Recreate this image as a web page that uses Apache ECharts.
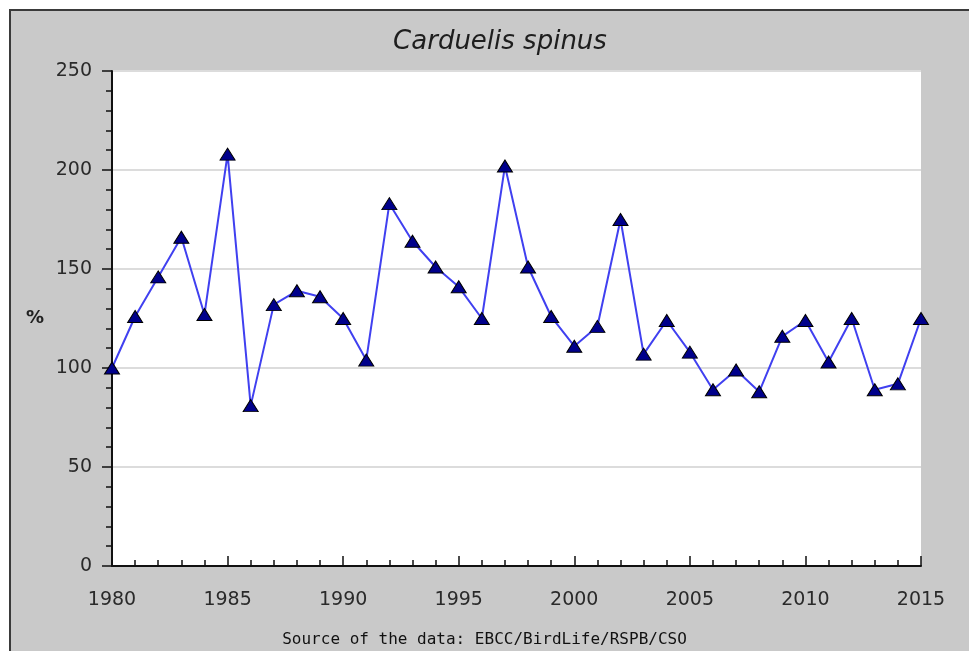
<!DOCTYPE html>
<html>
<head>
<meta charset="utf-8">
<script src="https://cdn.jsdelivr.net/npm/echarts@6/dist/echarts.min.js"></script>
<style>
  html, body { margin: 0; padding: 0; background: #ffffff; overflow: hidden; }
  #panel {
    position: absolute; left: 9px; top: 9px; width: 958px; height: 640px;
    background: #c9c9c9; border-top: 2px solid #3a3a3a; border-left: 2px solid #3a3a3a;
  }
  #chart { position: absolute; left: 0; top: 0; width: 969px; height: 651px; }
</style>
</head>
<body>
<div id="panel"></div>
<div id="chart"></div>
<script>
// Siskin population index (%), 1980 = 100
const years = [1980, 1981, 1982, 1983, 1984, 1985, 1986, 1987, 1988, 1989,
               1990, 1991, 1992, 1993, 1994, 1995, 1996, 1997, 1998, 1999,
               2000, 2001, 2002, 2003, 2004, 2005, 2006, 2007, 2008, 2009,
               2010, 2011, 2012, 2013, 2014, 2015];
const indexValues = [100, 126, 146, 166, 127, 208, 81, 132, 139, 136,
                     125, 104, 183, 164, 151, 141, 125, 202, 151, 126,
                     111, 121, 175, 107, 124, 108, 89, 99, 88, 116,
                     124, 103, 125, 89, 92, 125];

const chartTitle = 'Carduelis spinus';
const sourceNote = 'Source of the data: EBCC/BirdLife/RSPB/CSO';

const points = years.map((y, i) => [y, indexValues[i]]);

const chart = echarts.init(document.getElementById('chart'), null, { renderer: 'canvas' });
const labelFont = { color: '#2a2a2a', fontFamily: 'DejaVu Sans', fontSize: 19 };

chart.setOption({
  backgroundColor: 'transparent',
  animation: false,
  title: {
    text: chartTitle,
    left: 495, top: 24, textAlign: 'center',
    textStyle: { fontFamily: 'DejaVu Sans', fontStyle: 'italic', fontWeight: 'normal', fontSize: 26, color: '#1e1e1e' }
  },
  graphic: [{
    type: 'text', left: 'center', top: 632,
    style: { text: sourceNote, font: '16px "DejaVu Sans Mono"', fill: '#111' }
  }],
  grid: { left: 112, top: 71, right: 48, bottom: 85, show: true, backgroundColor: '#ffffff', borderWidth: 0 },
  xAxis: {
    type: 'value', min: 1980, max: 2015, interval: 5,
    axisLine: { show: true, onZero: false, lineStyle: { color: '#111', width: 2 } },
    axisTick: { show: true, inside: true, length: 10, lineStyle: { color: '#111', width: 1.5 } },
    minorTick: { show: true, splitNumber: 5, length: 6, lineStyle: { color: '#111', width: 1.5 } },
    axisLabel: Object.assign({ margin: 25, formatter: v => String(v) }, labelFont),
    splitLine: { show: false }
  },
  yAxis: {
    type: 'value', min: 0, max: 250, interval: 50,
    name: '%', nameLocation: 'middle', nameGap: 68, nameRotate: 0,
    nameTextStyle: { fontFamily: 'DejaVu Sans', fontWeight: 'bold', fontSize: 18, color: '#222' },
    axisLine: { show: true, lineStyle: { color: '#111', width: 2 } },
    axisTick: { show: true, inside: false, length: 10, lineStyle: { color: '#111', width: 1.5 } },
    minorTick: { show: true, splitNumber: 5, length: 6, lineStyle: { color: '#111', width: 1.5 } },
    axisLabel: Object.assign({ margin: 20 }, labelFont),
    splitLine: { show: true, lineStyle: { color: '#dcdcdc', width: 2 } }
  },
  series: [{
    type: 'line',
    data: points,
    lineStyle: { color: '#4040f0', width: 2 },
    symbol: 'triangle',
    symbolSize: [15, 12],
    itemStyle: { color: '#00008b', borderColor: '#000', borderWidth: 1 },
    z: 5
  }]
});
</script>
</body>
</html>
